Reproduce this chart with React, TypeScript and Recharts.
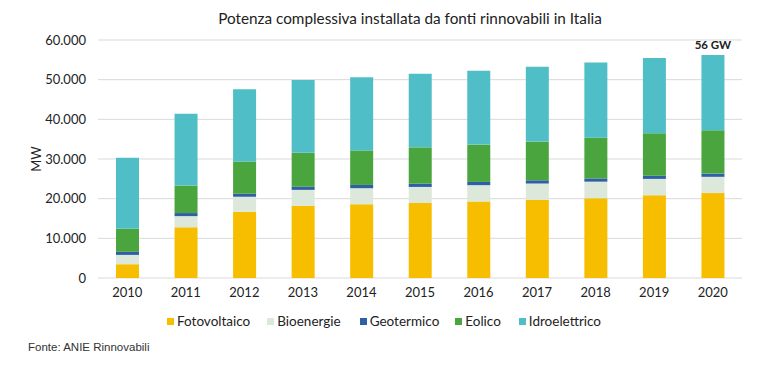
import React from "react";
import { BarChart, Bar, XAxis, YAxis, CartesianGrid } from "recharts";

const years = ["2010", "2011", "2012", "2013", "2014", "2015", "2016", "2017", "2018", "2019", "2020"];
const fotovoltaico = [3470, 12773, 16690, 18185, 18594, 18901, 19283, 19682, 20108, 20865, 21400];
const bioenergie = [2352, 2825, 3802, 4033, 4044, 4057, 4124, 4135, 4180, 4120, 4106];
const geotermico = [772, 772, 772, 773, 821, 821, 815, 813, 813, 800, 817];
const eolico = [5814, 6936, 8119, 8561, 8703, 9162, 9410, 9766, 10265, 10679, 10907];
const idroelettrico = [17876, 18092, 18232, 18366, 18418, 18543, 18641, 18863, 18940, 19000, 19000];
const yTicks = [0, 10000, 20000, 30000, 40000, 50000, 60000];
const topLabel = "56 GW";

const series = [
  { key: "Fotovoltaico", values: fotovoltaico, color: "#F7BE00" },
  { key: "Bioenergie", values: bioenergie, color: "#DCE8DA" },
  { key: "Geotermico", values: geotermico, color: "#2F5FA7" },
  { key: "Eolico", values: eolico, color: "#4BA53E" },
  { key: "Idroelettrico", values: idroelettrico, color: "#4FBEC6" },
];

const data = years.map((y, i) => {
  const row: Record<string, any> = { year: y };
  series.forEach((s) => (row[s.key] = s.values[i]));
  return row;
});

const fmt = (v: number) => (v === 0 ? "0" : v.toLocaleString("de-DE"));

const FONT = "Lato, 'Open Sans', sans-serif";

const legendGaps = [17, 19, 16, 18];

const LegendBox = () => (
  <div
    style={{
      position: "absolute",
      left: 167,
      top: 312,
      display: "flex",
      alignItems: "center",
      fontFamily: FONT,
      fontSize: 13.5,
      color: "#222",
      lineHeight: "18px",
    }}
  >
    {series.map((s, i) => (
      <div key={s.key} style={{ display: "flex", alignItems: "center", marginRight: i < legendGaps.length ? legendGaps[i] : 0 }}>
        <span style={{ display: "inline-block", width: 7, height: 7, background: s.color, marginRight: 3 }} />
        <span>{s.key}</span>
      </div>
    ))}
  </div>
);

const TopLabel = (props: any) => {
  const { x, y, width, index } = props;
  if (index !== years.length - 1) return null;
  return (
    <text x={x + width / 2} y={y - 6} textAnchor="middle" fontFamily={FONT} fontSize={11.5} fontWeight={700} fill="#222">
      {topLabel}
    </text>
  );
};

export default function App() {
  return (
    <div style={{ position: "absolute", left: 0, top: 0, width: 764, height: 366, background: "#fff" }}>
      <div
        style={{
          position: "absolute",
          left: 0,
          top: 9,
          width: 820,
          textAlign: "center",
          fontFamily: FONT,
          fontSize: 15.3,
          color: "#222",
          lineHeight: "18px",
        }}
      >
        Potenza complessiva installata da fonti rinnovabili in Italia
      </div>
      <BarChart
        width={764}
        height={366}
        data={data}
        margin={{ top: 40, right: 22, bottom: 58, left: 38 }}
        style={{ position: "absolute", left: 0, top: 0 }}
      >
        <CartesianGrid vertical={false} stroke="#d9d9d9" strokeWidth={1} />
        <XAxis
          dataKey="year"
          height={30}
          axisLine={false}
          tickLine={false}
          tickSize={0}
          tickMargin={10}
          tick={{ fontFamily: FONT, fontSize: 13, fill: "#222" }}
        />
        <YAxis
          width={60}
          domain={[0, 60000]}
          ticks={yTicks}
          tickFormatter={fmt}
          axisLine={false}
          tickLine={false}
          tickSize={0}
          tickMargin={12}
          tick={{ fontFamily: FONT, fontSize: 13, fill: "#222" }}
          label={{ value: "MW", angle: -90, position: "insideLeft", offset: -2, style: { fontFamily: FONT, fontSize: 13, fill: "#222", textAnchor: "middle" } }}
        />
        {series.map((s, i) => (
          <Bar
            key={s.key}
            dataKey={s.key}
            stackId="a"
            fill={s.color}
            barSize={23}
            isAnimationActive={false}
            label={i === series.length - 1 ? <TopLabel /> : undefined}
          />
        ))}
      </BarChart>
      <LegendBox />
      <div
        style={{
          position: "absolute",
          left: 28,
          top: 341,
          fontFamily: "'Liberation Sans', Arial, sans-serif",
          fontSize: 11.5,
          color: "#333",
        }}
      >
        Fonte: ANIE Rinnovabili
      </div>
    </div>
  );
}
